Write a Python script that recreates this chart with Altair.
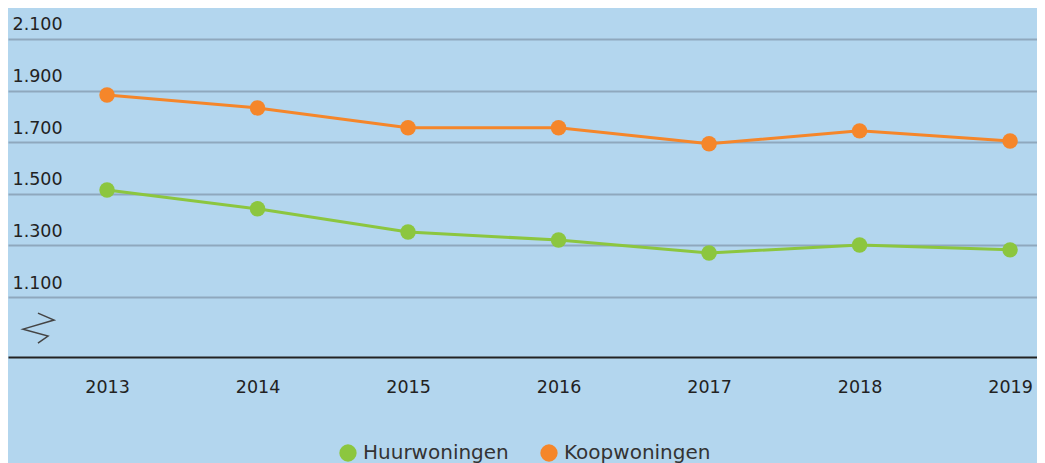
import altair as alt
import pandas as pd

years = [2013, 2014, 2015, 2016, 2017, 2018, 2019]
huur = [1515, 1442, 1352, 1321, 1271, 1302, 1283]
koop = [1883, 1833, 1756, 1756, 1694, 1744, 1705]
series = ["Huurwoningen", "Koopwoningen"]
colors = ["#8cc63f", "#f5862a"]
y_ticks = [1100, 1300, 1500, 1700, 1900, 2100]

# axis-break zigzag decoration (in data units)
break_x = [2012.541, 2012.648, 2012.442, 2012.608, 2012.541]
break_y = [1038, 1011, 976, 949, 922]

df = pd.DataFrame({
    "year": years * 2,
    "value": huur + koop,
    "series": [series[0]] * len(years) + [series[1]] * len(years),
})
brk = pd.DataFrame({"x": break_x, "y": break_y, "order": list(range(len(break_x)))})

FONT = "DejaVu Sans"
xs = alt.Scale(domain=[2012.342, 2019.179], nice=False, zero=False)
ys = alt.Scale(domain=[868, 2220], nice=False, zero=False)

x_axis = alt.Axis(
    values=years, format="d", title=None, grid=False, ticks=False,
    domain=True, domainColor="#222222", domainWidth=2,
    labelPadding=21, labelFontSize=17.5, labelFont=FONT, labelColor="#222222",
)
y_axis = alt.Axis(
    values=y_ticks, title=None, ticks=False, domain=False, grid=True,
    gridColor="#8fa8bd", gridWidth=2,
    labelAlign="left", labelBaseline="bottom", labelPadding=-4, labelOffset=-5,
    labelFontSize=17.5, labelFont=FONT, labelColor="#222222",
    labelExpr="replace(format(datum.value, ','), ',', '.')",
)

cscale = alt.Scale(domain=series, range=colors)

line = alt.Chart(df).mark_line(strokeWidth=3).encode(
    x=alt.X("year:Q", scale=xs, axis=x_axis),
    y=alt.Y("value:Q", scale=ys, axis=y_axis),
    color=alt.Color("series:N", scale=cscale, legend=None),
)

points = alt.Chart(df).mark_circle(size=240, opacity=1).encode(
    x=alt.X("year:Q", scale=xs, axis=x_axis),
    y=alt.Y("value:Q", scale=ys, axis=y_axis),
    color=alt.Color(
        "series:N", scale=cscale,
        legend=alt.Legend(
            title=None, orient="none", legendX=330, legendY=435,
            direction="horizontal", symbolType="circle", symbolSize=300,
            symbolStrokeWidth=0, labelFontSize=20, labelFont=FONT,
            labelColor="#333333", columnPadding=30, labelOffset=5, labelLimit=0,
        ),
    ),
)

zig = alt.Chart(brk).mark_line(color="#444444", strokeWidth=1.5).encode(
    x=alt.X("x:Q", scale=xs, axis=x_axis),
    y=alt.Y("y:Q", scale=ys, axis=y_axis),
    order="order:Q",
)

chart = alt.layer(line, points, zig).resolve_legend(color="independent").properties(
    width=1029, height=349,
    autosize=alt.AutoSizeParams(type="none"),
    padding={"left": 0, "top": 0, "right": 0, "bottom": 106},
    background="#b3d6ee",
).configure_view(stroke=None)

chart.save("out.html", embed_options={"renderer": "svg", "actions": False})
